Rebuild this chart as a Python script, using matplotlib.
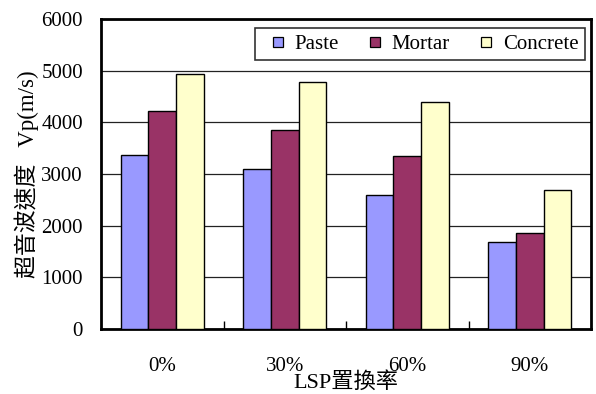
import os

os.environ.setdefault("MPLBACKEND", "Agg")

import matplotlib.pyplot as plt
import numpy as np
from matplotlib.lines import Line2D

plt.rcParams["font.family"] = ["Liberation Serif", "Noto Sans CJK TC"]

# LSP replacement ratio vs. ultrasonic pulse velocity
categories = ["0%", "30%", "60%", "90%"]
paste = [3370, 3100, 2590, 1680]
mortar = [4220, 3850, 3340, 1860]
concrete = [4940, 4780, 4400, 2700]

series = [
    ("Paste", paste, "#9999ff"),
    ("Mortar", mortar, "#993366"),
    ("Concrete", concrete, "#ffffcc"),
]

fig = plt.figure(figsize=(5.96, 3.94), dpi=100)
ax = fig.add_axes([101 / 596, 1 - 329 / 394, 490 / 596, 310 / 394])

x = np.arange(len(categories))
width = 0.225
handles = []
for i, (name, vals, color) in enumerate(series):
    ax.bar(x + (i - 1) * width, vals, width, color=color, edgecolor="black",
           linewidth=1.0, zorder=3)
    handles.append(Line2D([], [], linestyle="none", marker="s", markersize=7.5,
                          markerfacecolor=color, markeredgecolor="black",
                          markeredgewidth=0.9, label=name))

ax.set_xlim(-0.5, len(categories) - 0.5)
ax.set_ylim(0, 6000)
ax.set_yticks(np.arange(0, 6001, 1000))
ax.yaxis.grid(True, color="#222222", linewidth=0.9, zorder=0)
ax.set_axisbelow(True)

ax.set_xticks(x)
ax.set_xticklabels(categories, fontsize=15)
ax.set_xticks(np.arange(0.5, len(categories) - 1, 1), minor=True)
ax.tick_params(axis="x", which="major", length=0, pad=20)
ax.tick_params(axis="x", which="minor", direction="in", length=6, width=1)
ax.tick_params(axis="y", labelsize=15, length=0, pad=13)

for side in ax.spines.values():
    side.set_linewidth(2)
    side.set_color("black")

ax.set_xlabel("LSP置換率", fontsize=16, labelpad=-3)
ax.set_ylabel("超音波速度   Vp(m/s)", fontsize=16.5, labelpad=2)

leg = ax.legend(handles=handles, loc="upper right", ncol=3, fontsize=15,
                frameon=True, fancybox=False, edgecolor="black",
                handlelength=1.6, handletextpad=0.0, columnspacing=0.95,
                borderpad=0.3, borderaxespad=0.0,
                bbox_to_anchor=(484 / 490, 1 - 9 / 310))
leg.get_frame().set_linewidth(1.2)

fig.savefig("out.png", dpi=100, facecolor="white")
